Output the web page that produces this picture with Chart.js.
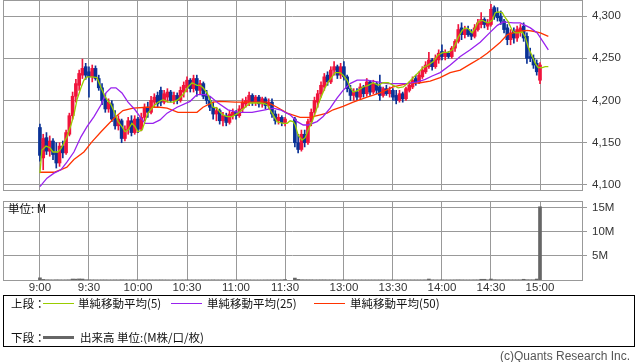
<!DOCTYPE html>
<html lang="ja">
<head>
<meta charset="utf-8">
<title>日中足チャート</title>
<script src="https://cdn.jsdelivr.net/npm/chart.js@4.4.1/dist/chart.umd.min.js"></script>
<style>
  body { margin: 0; background: #fff; }
  #wrap { position: relative; width: 638px; height: 362px; overflow: hidden; font-family: 'Noto Sans CJK JP', 'Noto Sans', sans-serif; color: #111; }
  canvas { position: absolute; left: 0; }
  #priceChart { top: 0; }
  #volumeChart { top: 195px; }
  #legendBox { position: absolute; left: 3px; top: 295px; width: 632px; height: 52px; border: 1px solid #000; box-sizing: border-box; }
  .txt { position: absolute; font-size: 11.5px; line-height: 14px; white-space: nowrap; }
  .swatch { position: absolute; height: 1px; width: 31px; }
  #copy { position: absolute; left: 500px; top: 349px; font-family: 'Liberation Sans', sans-serif; font-size: 12px; color: #555; white-space: nowrap; }
</style>
</head>
<body>
<div id="wrap">
  <canvas id="priceChart" width="638" height="191"></canvas>
  <canvas id="volumeChart" width="638" height="105"></canvas>
  <div class="txt" style="left:8px;top:201px;">単位: M</div>
  <div id="legendBox"></div>
  <div class="txt" style="left:11px;top:296px;">上段：</div>
  <div class="swatch" style="left:43px;top:303px;background:#99cc00;"></div>
  <div class="txt" style="left:78px;top:296px;">単純移動平均(5)</div>
  <div class="swatch" style="left:171px;top:303px;background:#9922ee;"></div>
  <div class="txt" style="left:207px;top:296px;">単純移動平均(25)</div>
  <div class="swatch" style="left:314px;top:303px;background:#ff3300;"></div>
  <div class="txt" style="left:350px;top:296px;">単純移動平均(50)</div>
  <div class="txt" style="left:11px;top:330px;">下段：</div>
  <div class="swatch" style="left:43px;top:336px;height:3px;background:#666;"></div>
  <div class="txt" style="left:80px;top:330px;">出来高 単位:(M株/口/枚)</div>
  <div id="copy">(c)Quants Research Inc.</div>
</div>
<script>
// 時間軸の目盛り
const tickLabels = ['9:00', '9:30', '10:00', '10:30', '11:00', '11:30', '13:00', '13:30', '14:00', '14:30', '15:00'];
const priceTicks = [4100, 4150, 4200, 4250, 4300];
const volumeTicks = [5, 10, 15];

// 2分足 (前場 9:00-11:30, 後場 12:30-15:00)
const opens = [
  4168,4132,4156,4140,4152,4138,4126,4146,4138,4160,
  4182,4205,4218,4230,4240,4234,4228,4238,4226,4215,
  4202,4190,4196,4180,4170,4176,4155,4166,4176,4162,
  4178,4166,4180,4192,4186,4198,4206,4212,4198,4204,
  4210,4200,4206,4200,4210,4215,4224,4214,4226,4212,
  4220,4206,4200,4192,4184,4188,4176,4182,4174,4182,
  4186,4182,4190,4196,4198,4206,4198,4204,4196,4202,
  4194,4198,4184,4176,4180,4174,
  4178,4150,4142,4160,4150,4175,4186,4198,4208,4216,
  4230,4222,4236,4240,4230,4240,4228,4214,4206,4210,
  4204,4216,4208,4222,4210,4220,4216,4206,4214,4208,
  4212,4206,4200,4208,4202,4212,4216,4226,4222,4228,
  4234,4240,4248,4240,4248,4258,4252,4256,4252,4262,
  4270,4286,4278,4284,4280,4276,4284,4290,4296,4288,
  4290,4310,4304,4300,4294,4286,4272,4282,4274,4282,
  4288,4276,4252,4250,4244,4224
];
const highs = [
  4172,4160,4162,4158,4155,4150,4150,4152,4165,4185,
  4210,4225,4236,4249,4244,4240,4242,4241,4230,4220,
  4208,4202,4200,4188,4182,4178,4170,4180,4182,4182,
  4180,4185,4196,4198,4205,4208,4210,4216,4212,4214,
  4212,4210,4209,4216,4222,4228,4226,4230,4230,4224,
  4222,4212,4205,4198,4192,4190,4186,4185,4188,4190,
  4188,4194,4202,4204,4210,4208,4206,4206,4204,4204,
  4202,4202,4188,4184,4182,4180,
  4180,4160,4165,4165,4178,4190,4204,4212,4222,4232,
  4234,4240,4246,4242,4244,4246,4230,4218,4214,4214,
  4220,4218,4226,4224,4224,4222,4230,4216,4218,4216,
  4214,4212,4212,4210,4216,4222,4228,4230,4234,4240,
  4246,4257,4250,4254,4260,4266,4260,4258,4264,4272,
  4290,4292,4288,4288,4284,4290,4296,4304,4298,4296,
  4314,4312,4310,4306,4296,4290,4284,4286,4288,4290,
  4292,4280,4262,4254,4248,4245
];
const lows = [
  4128,4118,4136,4134,4130,4120,4122,4132,4136,4158,
  4178,4198,4212,4226,4225,4204,4222,4224,4212,4195,
  4186,4186,4175,4166,4165,4150,4152,4160,4158,4160,
  4162,4164,4176,4180,4184,4192,4192,4194,4196,4198,
  4198,4196,4196,4198,4204,4210,4210,4210,4205,4208,
  4202,4196,4188,4178,4176,4172,4170,4170,4172,4178,
  4178,4180,4186,4192,4194,4194,4194,4192,4192,4190,
  4190,4180,4172,4172,4170,4170,
  4145,4138,4140,4145,4148,4170,4182,4192,4204,4212,
  4218,4220,4230,4226,4226,4224,4210,4200,4200,4200,
  4202,4204,4205,4206,4208,4208,4200,4204,4206,4204,
  4200,4196,4198,4198,4200,4210,4214,4218,4220,4226,
  4232,4238,4236,4238,4244,4248,4248,4250,4250,4258,
  4268,4272,4274,4276,4272,4274,4282,4286,4286,4284,
  4288,4296,4294,4290,4280,4266,4266,4268,4270,4276,
  4270,4244,4246,4238,4230,4220
];
const closes = [
  4135,4155,4140,4152,4136,4126,4146,4138,4162,4182,
  4205,4220,4232,4238,4230,4228,4238,4226,4215,4200,
  4190,4198,4178,4170,4178,4155,4166,4176,4162,4178,
  4166,4180,4192,4186,4200,4204,4196,4198,4208,4210,
  4200,4206,4200,4212,4218,4224,4214,4226,4212,4220,
  4205,4200,4192,4184,4188,4176,4182,4174,4184,4186,
  4182,4190,4198,4200,4206,4198,4204,4196,4202,4194,
  4198,4184,4176,4180,4174,4178,
  4150,4142,4160,4150,4175,4186,4200,4208,4218,4228,
  4222,4236,4240,4230,4240,4228,4214,4206,4210,4204,
  4216,4208,4222,4210,4220,4212,4206,4214,4208,4212,
  4204,4200,4208,4202,4214,4218,4224,4222,4230,4236,
  4242,4248,4240,4250,4256,4252,4256,4252,4262,4270,
  4284,4278,4284,4278,4276,4286,4292,4296,4290,4292,
  4308,4300,4298,4294,4284,4272,4280,4274,4284,4286,
  4274,4250,4250,4242,4234,4242
];
// 出来高 (百万株)
const volumes = [
  0.45,0.12,0.05,0.04,0.03,0.05,0.04,0.03,0.04,0.05,
  0.2,0.18,0.22,0.2,0.06,0.05,0.04,0.04,0.03,0.04,
  0.04,0.03,0.03,0.04,0.03,0.05,0.04,0.03,0.03,0.03,
  0.03,0.03,0.04,0.03,0.03,0.03,0.03,0.04,0.03,0.03,
  0.02,0.03,0.02,0.03,0.03,0.04,0.03,0.03,0.03,0.03,
  0.03,0.03,0.03,0.04,0.03,0.03,0.03,0.02,0.03,0.02,
  0.02,0.02,0.03,0.03,0.03,0.02,0.02,0.02,0.02,0.03,
  0.03,0.03,0.03,0.03,0.04,0.1,
  0.4,0.12,0.06,0.05,0.05,0.05,0.04,0.04,0.05,0.05,
  0.04,0.04,0.04,0.03,0.03,0.03,0.03,0.03,0.03,0.03,
  0.03,0.03,0.03,0.03,0.03,0.03,0.03,0.03,0.02,0.02,
  0.02,0.02,0.02,0.03,0.03,0.03,0.03,0.03,0.03,0.03,
  0.04,0.2,0.04,0.03,0.03,0.04,0.03,0.03,0.03,0.04,
  0.05,0.04,0.03,0.03,0.03,0.04,0.04,0.15,0.15,0.04,
  0.2,0.06,0.05,0.04,0.04,0.05,0.04,0.04,0.04,0.04,
  0.15,0.06,0.05,0.05,0.2,15.2
];

// 移動平均 (位置は 9:00 からの分, 昼休みは詰めて表示)
const ma5Slots = [0,1.2,3.7,6.1,8,11,12.9,14.7,16.5,19,20.8,22.7,25.1,26.9,28.8,31.8,34.9,37.4,39.2,41,
  43.5,45.9,47.8,50.2,52.1,53.9,56.3,58.2,60,62.5,64.3,66.1,68.6,70.4,72.3,75.3,78.4,81.4,84.5,87.6,
  90.6,93.1,96.1,98,99.8,102.3,104.1,105.9,108.4,110.2,112.1,114.5,117.6,119.4,121.2,123.7,125.5,128.6,134.7,137.8,
  139,140.8,142.7,145.1,148.8,151.3,153.1,154.9,156.2,158,160.4,162.3,164.1,166.6,168.4,170.2,172.7,174.5,176.4,178.8,
  180.6,183.7,185.5,188,189.8,191.7,194.7,197.8,200.9,203.9,207,210,213.1,216.2,219.2,222.3,225.4,228.4,231.5,234.5,
  237.6,240.7,243.7,246.8,249.8,252.3,254.1,256,258.4,260.2,262.1,264.5,266.4,268.2,270.7,272.5,274.3,276.8,278.6,280.5,
  282.9,284.7,286.6,289,290.9,292.7,295.2,297,298.8,301.3,303.1,304.9,307.4,309.2,311.1];
const ma5 = [4114,4141,4146,4144,4139,4139,4143,4150,4157,4171,4183,4201,4215,4224,4228,4228,4227,4215,4207,4201,
  4195,4185,4175,4169,4163,4165,4173,4169,4163,4165,4175,4185,4191,4195,4198,4201,4198,4198,4201,4207,
  4216,4221,4218,4218,4215,4209,4201,4192,4191,4186,4183,4181,4181,4183,4185,4189,4192,4197,4197,4196,
  4195,4189,4183,4175,4173,4173,4176,4175,4171,4159,4153,4156,4165,4175,4185,4195,4207,4215,4222,4228,
  4233,4233,4230,4224,4216,4210,4212,4216,4218,4221,4218,4221,4221,4218,4215,4216,4221,4227,4233,4239,
  4242,4246,4254,4257,4257,4260,4266,4275,4283,4286,4285,4280,4286,4293,4295,4293,4292,4295,4304,4305,
  4304,4298,4293,4283,4280,4280,4281,4275,4263,4252,4244,4239,4239,4240,4240];
const ma25Slots = [0,4.3,8.6,12.9,16.5,20.8,25.1,28.8,33.1,37.4,40.4,43.5,46.5,50.2,53.9,58.2,61.2,64.3,69.2,73.5,
  77.8,83.9,91.9,96.1,101,104.1,109,115.1,121.2,129.8,137.8,142.7,147,153.1,157.4,161.1,164.1,169.6,173.3,177.6,
  181.9,185.5,189.8,194.1,200.2,206.4,212.5,218.6,224.7,230.9,235.8,240,244.9,251.1,257.2,263.3,269.4,275.6,279.9,283.5,
  289.7,293.9,297,300.1,304.3,308,311.1];
const ma25 = [4098,4108,4114,4118,4127,4139,4157,4169,4181,4195,4209,4215,4215,4209,4198,4189,4181,4173,4173,4177,
  4185,4192,4199,4207,4207,4205,4197,4189,4186,4186,4189,4191,4189,4183,4175,4171,4171,4175,4181,4191,
  4203,4212,4220,4224,4224,4222,4220,4220,4220,4222,4225,4229,4233,4242,4252,4260,4269,4281,4289,4293,
  4292,4292,4289,4286,4280,4269,4260];
const ma50Slots = [0,8.6,12.9,16.5,20.8,26.9,31.8,37.4,45.3,50.8,57,65.5,73.5,77.8,84.5,96.1,99.8,106,110.2,119.4,
  139,145.1,151.3,159.2,165.3,171.5,175.7,179.4,185.5,191.7,200.2,208.2,216.2,224.7,232.7,238.8,244.9,251,257.2,263.3,
  269.4,273.7,277.4,281.7,286,289.7,293.9,298.2,301.9,306.2,311.1];
const ma50 = [4115,4115,4118,4121,4130,4139,4151,4163,4179,4188,4191,4192,4192,4191,4186,4186,4192,4198,4199,4198,
  4198,4192,4185,4180,4180,4183,4185,4189,4193,4198,4204,4209,4216,4220,4221,4223,4227,4233,4236,4243,
  4250,4256,4262,4269,4278,4280,4282,4283,4282,4280,4276];

// 9:00 からの分 → 横位置 (12:30 以降は 54 分詰める)
function slotOf(label) {
  const [h, m] = label.split(':').map(Number);
  const min = (h - 9) * 60 + m;
  return min >= 210 ? min - 54 : min;
}
const tickSlots = tickLabels.map(slotOf);

const barSlots = [];
for (let m = 0; m <= 150; m += 2) barSlots.push(m);
for (let m = 210; m <= 360; m += 2) barSlots.push(m - 54);

const upColor = '#f0143c';
const downColor = '#0a3296';
const candleColors = closes.map((c, i) => c >= opens[i] ? upColor : downColor);

const xMin = -22.6, xMax = 331.7;

Chart.defaults.font.family = "'Liberation Sans', Arial, sans-serif";
Chart.defaults.font.size = 11.5;
Chart.defaults.color = '#333';

const framePlugin = {
  id: 'frame',
  afterDatasetsDraw(chart) {
    const a = chart.chartArea;
    const ctx = chart.ctx;
    ctx.save();
    ctx.strokeStyle = '#999';
    ctx.lineWidth = 1;
    ctx.strokeRect(Math.round(a.left) + 0.5, Math.round(a.top) + 0.5,
      Math.round(a.right - a.left), Math.round(a.bottom - a.top));
    ctx.restore();
  }
};

function lineSet(xs, ys, color, order) {
  return {
    type: 'line',
    data: xs.map((x, i) => ({ x: x, y: ys[i] })),
    borderColor: color,
    borderWidth: 1.3,
    pointRadius: 0,
    tension: 0,
    order: order
  };
}

function timeAxis(showLabels, height) {
  return {
    type: 'linear',
    min: xMin,
    max: xMax,
    offset: false,
    grid: { color: '#999', drawTicks: false, offset: false },
    border: { display: false },
    ticks: {
      display: showLabels,
      padding: 1,
      autoSkip: false,
      maxRotation: 0,
      callback: (v, i) => tickLabels[i]
    },
    afterBuildTicks: s => { s.ticks = tickSlots.map(v => ({ value: v })); },
    afterFit: s => { s.height = height; s.paddingLeft = 0; s.paddingRight = 0; }
  };
}

const priceChart = new Chart(document.getElementById('priceChart'), {
  type: 'bar',
  data: {
    datasets: [
      lineSet(ma5Slots, ma5, '#99cc00', 1),
      lineSet(ma25Slots, ma25, '#9922ee', 2),
      lineSet(ma50Slots, ma50, '#ff3300', 3),
      {
        data: barSlots.map((s, i) => ({ x: s, y: [opens[i], closes[i]] })),
        backgroundColor: candleColors,
        barThickness: 3,
        minBarLength: 1,
        grouped: false,
        order: 4
      },
      {
        data: barSlots.map((s, i) => ({ x: s, y: [lows[i], highs[i]] })),
        backgroundColor: candleColors,
        barThickness: 1,
        grouped: false,
        order: 5
      }
    ]
  },
  options: {
    responsive: false,
    animation: false,
    layout: { padding: { left: 3, top: 0, right: 0, bottom: 1 } },
    plugins: { legend: { display: false }, tooltip: { enabled: false } },
    scales: {
      x: timeAxis(false, 0),
      y: {
        position: 'right',
        min: 4094,
        max: 4319,
        grid: { color: '#999', tickLength: 5 },
        border: { display: false },
        ticks: { padding: 5, callback: v => v.toLocaleString('en-US') },
        afterBuildTicks: s => { s.ticks = priceTicks.map(v => ({ value: v })); },
        afterFit: s => { s.width = 56; s.paddingTop = 0; s.paddingBottom = 0; }
      }
    }
  },
  plugins: [framePlugin]
});

const volumeChart = new Chart(document.getElementById('volumeChart'), {
  type: 'bar',
  data: {
    datasets: [{
      data: barSlots.map((s, i) => ({ x: s, y: volumes[i] })),
      backgroundColor: '#666',
      barThickness: 3
    }]
  },
  options: {
    responsive: false,
    animation: false,
    layout: { padding: { left: 3, top: 6, right: 0, bottom: 0 } },
    plugins: { legend: { display: false }, tooltip: { enabled: false } },
    scales: {
      x: timeAxis(true, 20),
      y: {
        position: 'right',
        min: 0,
        max: 16.4,
        grid: { color: '#999', tickLength: 5 },
        border: { display: false },
        ticks: { padding: 5, callback: v => v + 'M' },
        afterBuildTicks: s => { s.ticks = volumeTicks.map(v => ({ value: v })); },
        afterFit: s => { s.width = 56; s.paddingTop = 0; s.paddingBottom = 0; }
      }
    }
  },
  plugins: [framePlugin]
});
</script>
</body>
</html>
